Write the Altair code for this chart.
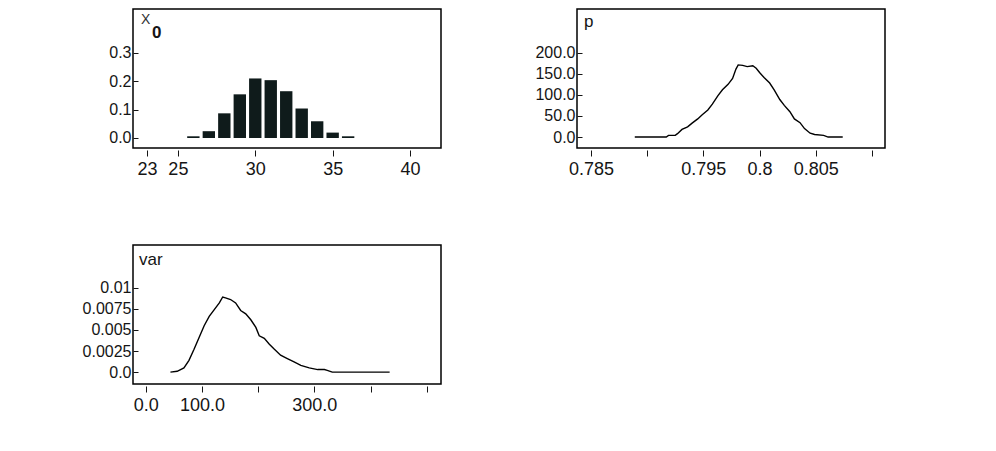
import altair as alt
import pandas as pd

# ---- data ----
x0_vals = [26, 27, 28, 29, 30, 31, 32, 33, 34, 35, 36]
x0_probs = [0.006, 0.024, 0.087, 0.154, 0.210, 0.204, 0.165, 0.104, 0.059, 0.019, 0.006]

p_x = [0.7889, 0.7917, 0.7919, 0.7925, 0.7927, 0.7931, 0.7936, 0.7940, 0.7945, 0.7949,
       0.7954, 0.7958, 0.7963, 0.7967, 0.7972, 0.7976, 0.7979, 0.7981, 0.7985, 0.7989,
       0.7994, 0.7997, 0.8000, 0.8004, 0.8009, 0.8013, 0.8018, 0.8022, 0.8027, 0.8031,
       0.8036, 0.8040, 0.8045, 0.8049, 0.8057, 0.8061, 0.8074]
p_y = [0, 0, 4, 4, 8, 18, 24, 33, 43, 53,
       64, 78, 98, 112, 125, 139, 161, 171, 170, 167,
       169, 163, 153, 141, 128, 112, 89, 75, 60, 43,
       34, 20, 9, 6, 4, 0, 0]

var_x = [44, 56, 68, 77, 86, 95, 104, 113, 122, 131,
         137, 142, 151, 160, 169, 178, 187, 196, 202, 211,
         220, 229, 240, 252, 264, 276, 291, 306, 318, 323,
         332, 434]
var_y = [0, 0.0001, 0.0005, 0.0014, 0.0027, 0.0041, 0.0055, 0.0066, 0.0074, 0.0082,
         0.0089, 0.0088, 0.0086, 0.0082, 0.0073, 0.0069, 0.0062, 0.0053, 0.0043, 0.0040,
         0.0033, 0.0027, 0.0020, 0.0016, 0.0012, 0.0008, 0.0005, 0.0003, 0.0003, 0.0002,
         0, 0]

# axis ticks / labels
x0_xticks = [23, 25, 30, 35, 40]
x0_xlabels = ["23", "25", "30", "35", "40"]
x0_yticks = [0, 0.1, 0.2, 0.3]
x0_ylabels = ["0.0", "0.1", "0.2", "0.3"]

p_xticks = [0.785, 0.79, 0.795, 0.8, 0.805, 0.81]
p_xlabels = ["0.785", "", "0.795", "0.8", "0.805", ""]
p_yticks = [0, 50, 100, 150, 200]
p_ylabels = ["0.0", "50.0", "100.0", "150.0", "200.0"]

var_xticks = [0, 100, 200, 300, 400, 500]
var_xlabels = ["0.0", "100.0", "", "300.0", "", ""]
var_yticks = [0, 0.0025, 0.005, 0.0075, 0.01]
var_ylabels = ["0.0", "0.0025", "0.005", "0.0075", "0.01"]

FONT = "Liberation Sans"
INK = "#151515"
W, H = 308, 139


def lab_expr(vals, labels):
    expr = "''"
    for v, l in reversed(list(zip(vals, labels))):
        expr = f"(abs(datum.value - ({v})) < 1e-9 ? '{l}' : {expr})"
    return expr


def xaxis(vals, labels):
    return alt.Axis(values=vals, labelExpr=lab_expr(vals, labels), domain=False, grid=False,
                    offset=2, tickSize=6, labelPadding=4, labelFontSize=18, labelFont=FONT,
                    labelColor=INK, tickColor=INK, title=None, labelOverlap=False,
                    labelFlush=False)


def yaxis(vals, labels):
    return alt.Axis(values=vals, labelExpr=lab_expr(vals, labels), domain=False, grid=False,
                    offset=-5, tickSize=5, labelPadding=2, labelFontSize=16, labelFont=FONT,
                    labelColor=INK, tickColor=INK, title=None, labelOverlap=False,
                    labelFlush=False)


def label_layer(text, dx, dy, size, weight="normal", color=INK):
    return alt.Chart(pd.DataFrame({"t": [text]})).mark_text(
        align="left", baseline="alphabetic", font=FONT, fontSize=size, fontWeight=weight,
        color=color
    ).encode(x=alt.value(dx), y=alt.value(dy), text="t:N")


# ---- panel 1: X0 histogram ----
df0 = pd.DataFrame({"v": x0_vals, "p": x0_probs})
df0["lo"] = df0["v"] - 0.4
df0["hi"] = df0["v"] + 0.4
df0["zero"] = 0.0

bars = alt.Chart(df0).mark_rect(color="#0f1b1b").encode(
    x=alt.X("lo:Q", scale=alt.Scale(domain=[22.1, 42.0], nice=False, zero=False),
            axis=xaxis(x0_xticks, x0_xlabels)),
    x2="hi:Q",
    y=alt.Y("p:Q", scale=alt.Scale(domain=[-0.0353, 0.455], nice=False, zero=False),
            axis=yaxis(x0_yticks, x0_ylabels)),
    y2="zero:Q",
)
panel1 = alt.layer(
    bars,
    label_layer("X", 8, 15, 14, color="#333333"),
    label_layer("0", 19, 29, 17, weight="bold"),
).properties(width=W, height=H)

# ---- panel 2: p density ----
dfp = pd.DataFrame({"x": p_x, "y": p_y})
line_p = alt.Chart(dfp).mark_line(color="#000000", strokeWidth=1.4).encode(
    x=alt.X("x:Q", scale=alt.Scale(domain=[0.78376, 0.81116], nice=False, zero=False),
            axis=xaxis(p_xticks, p_xlabels)),
    y=alt.Y("y:Q", scale=alt.Scale(domain=[-26, 303.5], nice=False, zero=False),
            axis=yaxis(p_yticks, p_ylabels)),
)
panel2 = alt.layer(line_p, label_layer("p", 7, 18, 17)).properties(width=W, height=H)

# ---- panel 3: var density ----
dfv = pd.DataFrame({"x": var_x, "y": var_y})
line_v = alt.Chart(dfv).mark_line(color="#000000", strokeWidth=1.4).encode(
    x=alt.X("x:Q", scale=alt.Scale(domain=[-22.6, 525.4], nice=False, zero=False),
            axis=xaxis(var_xticks, var_xlabels)),
    y=alt.Y("y:Q", scale=alt.Scale(domain=[-0.00141, 0.01506], nice=False, zero=False),
            axis=yaxis(var_yticks, var_ylabels)),
)
panel3 = alt.layer(line_v, label_layer("var", 6, 20, 17)).properties(width=W, height=H)

chart = alt.concat(panel1, panel2, panel3, columns=2,
                   spacing={"row": 97, "column": 136}, bounds="flush").properties(
    padding={"left": 73, "top": 0, "right": 5, "bottom": 5},
    background="#ffffff",
).configure_view(stroke="#000000", strokeWidth=1.5)

chart.save("out.html", embed_options={"renderer": "svg", "actions": False})
